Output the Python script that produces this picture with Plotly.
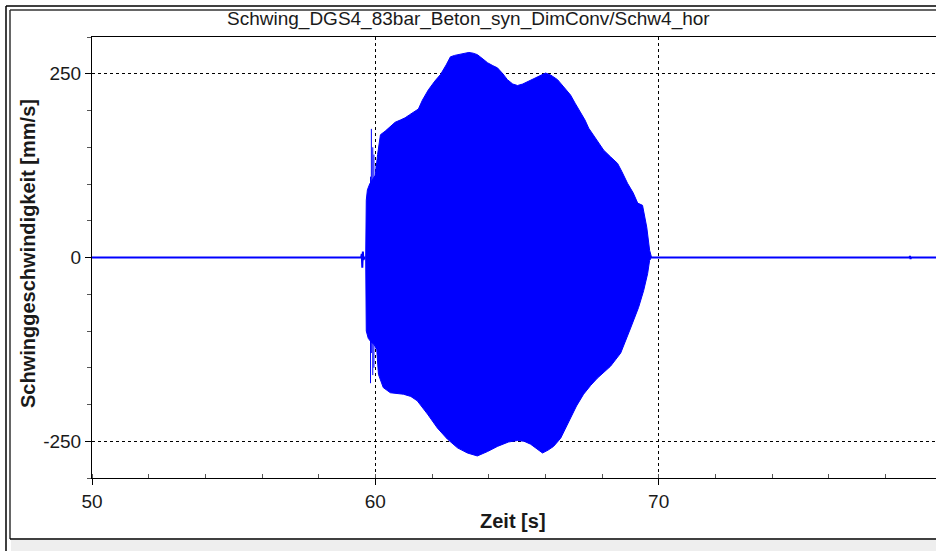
import plotly.graph_objects as go

# ---- signal data: time [s] and vibration velocity [mm/s] ----
# quiet baseline before and after the burst
pre_t = [50.0, 59.50, 59.52, 59.54, 59.56, 59.58, 59.62, 59.66]
pre_v = [0, 0, 5, -14, 8, -3, 0, 0]
post_t = [69.75, 78.85, 78.87, 78.89, 78.91, 80.0]
post_v = [0, 0, 2, -2, 0, 0]

# upper envelope of the burst
up_t = [59.66, 59.68, 59.72, 59.80, 59.90, 60.00, 60.08, 60.18, 60.35, 60.53,
        60.70, 60.88, 61.05, 61.20, 61.35, 61.52, 61.66, 61.87, 62.10, 62.30,
        62.50, 62.65, 62.80, 63.00, 63.15, 63.30, 63.45, 63.60, 63.80, 63.96,
        64.15, 64.31, 64.50, 64.66, 64.85, 65.02, 65.20, 65.37, 65.55, 65.72,
        65.88, 66.01, 66.20, 66.43, 66.65, 66.89, 67.05, 67.24, 67.40, 67.53,
        67.80, 68.06, 68.30, 68.55, 68.70, 68.90, 69.10, 69.26, 69.43, 69.58,
        69.68, 69.75]
up_v = [0, 78, 92, 100, 106, 112, 140, 167, 172, 178,
        184, 187, 190, 194, 198, 202, 214, 228, 240, 249,
        262, 273, 275, 277, 278, 279, 278, 276, 270, 265,
        261, 258, 250, 242, 236, 234, 236, 239, 243, 246,
        249, 251, 248, 242, 232, 221, 210, 198, 187, 176,
        160, 146, 137, 128, 117, 101, 88, 74, 71, 41,
        10, 0]

# lower envelope of the burst
lo_t = [59.66, 59.68, 59.75, 59.85, 59.95, 60.05, 60.11, 60.28, 60.53, 60.99,
        61.25, 61.48, 61.84, 62.19, 62.54, 62.90, 63.25, 63.60, 63.96, 64.31,
        64.70, 65.02, 65.25, 65.48, 65.70, 65.90, 66.10, 66.29, 66.54, 66.89,
        67.10, 67.35, 67.60, 67.84, 68.30, 68.66, 69.01, 69.29, 69.47, 69.61,
        69.68, 69.75]
lo_v = [0, -100, -110, -115, -118, -125, -159, -177, -184, -186,
        -189, -195, -213, -232, -247, -259, -266, -270, -264, -257,
        -251, -249, -250, -254, -260, -266, -262, -257, -246, -219,
        -202, -186, -174, -164, -148, -130, -96, -68, -45, -22,
        -4, 0]

# isolated peaks at the onset
spike_t = [59.83, 59.86, 59.91, 59.95, 60.03]
spike_hi = [110, 175, 150, 140, 126]
spike_lo = [-171, -130, -160, -150, -125]

x_ticks = [50, 60, 70]
y_ticks = [-250, 0, 250]

BLUE = "#0000ff"
FONT = "Liberation Sans, Arial, sans-serif"
INK = "#1a1a1a"

# plot-area geometry in pixels (used to place frame lines in paper units)
W, H = 936, 551
L, T, R, B = 92, 37, 0, 73
PW, PH = W - L - R, H - T - B


def px(p):
    return (p - L) / PW


def py(p):
    return (H - B - p) / PH


fig = go.Figure()

# burst as a filled envelope
fig.add_trace(go.Scatter(
    x=up_t + lo_t[::-1], y=up_v + lo_v[::-1],
    mode="lines", fill="toself", fillcolor=BLUE,
    line=dict(color=BLUE, width=1), hoverinfo="skip", showlegend=False))

# onset peaks
sx, sy = [], []
for t, hi, lo in zip(spike_t, spike_hi, spike_lo):
    sx += [t, t, None]
    sy += [lo, hi, None]
fig.add_trace(go.Scatter(x=sx, y=sy, mode="lines",
                         line=dict(color=BLUE, width=1), showlegend=False))

# baseline segments
for tt, vv in ((pre_t, pre_v), (post_t, post_v)):
    fig.add_trace(go.Scatter(x=tt, y=vv, mode="lines",
                             line=dict(color=BLUE, width=2), showlegend=False))

shapes = [
    # double outer frame
    dict(type="line", x0=px(6), x1=px(940), y0=py(6), y1=py(6),
         line=dict(color="#000000", width=1.5)),
    dict(type="line", x0=px(10), x1=px(940), y0=py(10), y1=py(10),
         line=dict(color="#333333", width=1.5)),
    dict(type="line", x0=px(6), x1=px(6), y0=py(6), y1=py(555),
         line=dict(color="#000000", width=1.5)),
    dict(type="line", x0=px(10), x1=px(10), y0=py(10), y1=py(539),
         line=dict(color="#333333", width=1.5)),
    dict(type="rect", x0=px(11), x1=px(940), y0=py(540), y1=py(555),
         fillcolor="#eeeeee", line=dict(width=0), layer="below"),
    dict(type="line", x0=px(10), x1=px(940), y0=py(539), y1=py(539),
         line=dict(color="#000000", width=1.5)),
]
for s in shapes:
    s.update(xref="paper", yref="paper")

annotations = [
    dict(text="Schwing_DGS4_83bar_Beton_syn_DimConv/Schw4_hor",
         x=px(468), y=py(19), xref="paper", yref="paper",
         xanchor="center", yanchor="middle", showarrow=False,
         font=dict(family=FONT, size=19, color=INK)),
    dict(text="Zeit [s]", x=px(513), y=py(521), xref="paper", yref="paper",
         xanchor="center", yanchor="middle", showarrow=False,
         font=dict(family=FONT, size=20, color=INK, weight="bold")),
    dict(text="Schwinggeschwindigkeit [mm/s]", x=px(28), y=py(254),
         xref="paper", yref="paper", textangle=-90,
         xanchor="center", yanchor="middle", showarrow=False,
         font=dict(family=FONT, size=20, color=INK, weight="bold")),
    # last tick label, at the right edge of the page
    dict(text="80", x=80, y=0, xref="x", yref="paper",
         xanchor="center", yanchor="top", yshift=-7, showarrow=False,
         font=dict(family=FONT, size=19, color=INK)),
]

fig.update_layout(
    width=W, height=H,
    margin=dict(l=L, r=R, t=T, b=B, pad=0),
    paper_bgcolor="#ffffff", plot_bgcolor="#ffffff",
    shapes=shapes, annotations=annotations, showlegend=False,
    xaxis=dict(range=[50, 50 + 30 * PW / 850], tickvals=x_ticks,
               ticktext=[str(v) for v in x_ticks],
               showline=True, linecolor="#000000", linewidth=1, mirror=True,
               ticks="outside", ticklen=6, tickcolor="#000000",
               showgrid=True, gridcolor="#000000", gridwidth=1, griddash="3px,3px",
               zeroline=False,
               minor=dict(dtick=2, tick0=50, ticks="inside", ticklen=4,
                          tickcolor="#555555", showgrid=False),
               tickfont=dict(family=FONT, size=19, color=INK)),
    yaxis=dict(range=[-300, 300], tickvals=y_ticks,
               ticktext=[str(v) for v in y_ticks],
               showline=True, linecolor="#000000", linewidth=1, mirror=False,
               ticks="outside", ticklen=6, tickcolor="#000000",
               showgrid=True, gridcolor="#000000", gridwidth=1, griddash="3px,3px",
               zeroline=False,
               minor=dict(dtick=50, tick0=0, ticks="outside", ticklen=4,
                          tickcolor="#555555", showgrid=False),
               tickfont=dict(family=FONT, size=19, color=INK)),
)

fig.write_html("out.html")
